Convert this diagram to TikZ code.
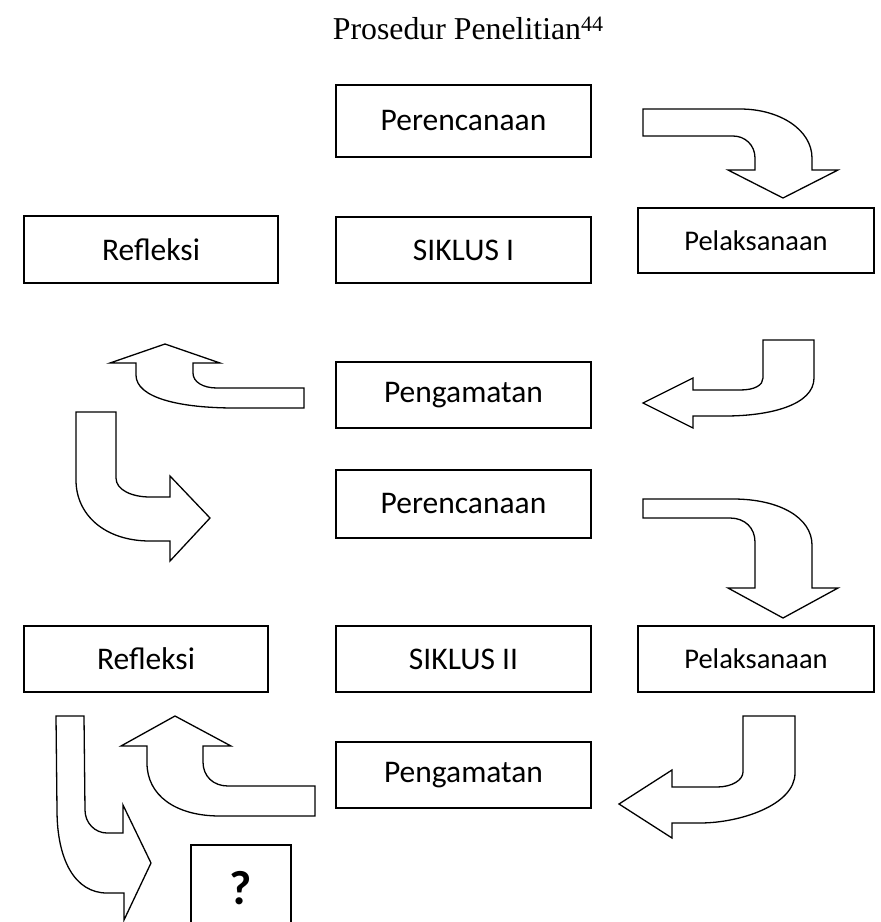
\documentclass[tikz,border=0pt]{standalone}
\usepackage{fontspec}
\setmainfont{Carlito}
\newfontfamily\titlefont{Liberation Serif}
\begin{document}
\begin{tikzpicture}[x=1pt,y=-1pt,
  box/.style={draw,line width=1.5pt,rectangle,inner sep=0pt,minimum width=255pt,minimum height=66pt,font=\fontsize{31.5}{36}\selectfont},
  smallbox/.style={box,font=\fontsize{28.5}{34}\selectfont},
  blockarrow/.style={draw,line width=1.3pt,line join=miter,fill=white}]
\useasboundingbox (0,0) rectangle (881,922);
% title
\node[anchor=base,inner sep=0pt,font=\titlefont\fontsize{31.8}{36}\selectfont] (title) at (468,39)
  {Prosedur Penelitian\raisebox{8pt}{\fontsize{22}{22}\selectfont 44}};
% cycle I
\node[box,minimum height=72pt] (p1) at (463.5,121) {Perencanaan};
\node[box] (s1) at (463.5,250) {SIKLUS I};
\node[box,minimum width=254pt,minimum height=67pt] (r1) at (151,249.5) {Refleksi};
\node[smallbox,minimum width=236pt,minimum height=65pt] (l1) at (756,240.5) {Pelaksanaan};
\node[box] (g1) at (463.5,395) {Pengamatan};
% cycle II
\node[box,minimum height=68pt] (p2) at (463.5,504) {Perencanaan};
\node[box] (s2) at (463.5,659) {SIKLUS II};
\node[box,minimum width=244pt] (r2) at (146,659) {Refleksi};
\node[smallbox,minimum width=236pt] (l2) at (756,659) {Pelaksanaan};
\node[box] (g2) at (463.5,775) {Pengamatan};
% question box (cut by the page edge)
\draw[line width=1.5pt] (191,922) -- (191,845) -- (291,845) -- (291,922);
\node[anchor=base,inner sep=0pt,font=\bfseries\fontsize{48}{50}\selectfont] (q) at (241,904) {?};
% arrows
\draw[blockarrow] (643,109) -- (740,109) .. controls (780,109) and (812,130) .. (812,158)
  -- (812,170) -- (838,170) -- (783,198) -- (728,170) -- (755,170) -- (755,158)
  .. controls (755,145) and (745,136) .. (733,136) -- (643,136) -- cycle;
\draw[blockarrow] (763,340) -- (814,340) -- (814,378) .. controls (814,405) and (770,416) .. (725,416)
  -- (693,416) -- (693,428) -- (643,403) -- (693,378) -- (693,390) -- (740,390)
  .. controls (755,390) and (763,385) .. (763,378) -- cycle;
\draw[blockarrow] (165,344) -- (220,363) -- (193,363) -- (193,373) .. controls (193,382) and (203,388) .. (217,388)
  -- (304,388) -- (304,408) -- (235,408) .. controls (180,408) and (136,398) .. (136,375)
  -- (136,363) -- (110,363) -- cycle;
\draw[blockarrow] (76,412) -- (116,412) -- (116,478) .. controls (116,490) and (132,497) .. (150,497)
  -- (170,497) -- (170,476) -- (210,518) -- (170,561) -- (170,541) -- (150,541)
  .. controls (105,541) and (76,515) .. (76,480) -- cycle;
\draw[blockarrow] (643,499) -- (733,499) .. controls (780,499) and (812,518) .. (812,545)
  -- (812,588) -- (838,588) -- (783,618) -- (728,588) -- (755,588) -- (755,542)
  .. controls (755,528) and (745,518) .. (730,518) -- (643,518) -- cycle;
\draw[blockarrow] (743,716) -- (795,716) -- (795,773) .. controls (795,805) and (740,823) .. (700,823)
  -- (672,823) -- (672,838) -- (619,804) -- (672,770) -- (672,787) -- (717,787)
  .. controls (732,787) and (743,780) .. (743,772) -- cycle;
\draw[blockarrow] (175,716) -- (231,746) -- (203,746) -- (203,762) .. controls (203,776) and (213,786) .. (228,786)
  -- (315,786) -- (315,816) -- (220,816) .. controls (175,816) and (147,795) .. (147,763)
  -- (147,746) -- (121,746) -- cycle;
\draw[blockarrow] (56,716) -- (84,716) -- (85,810) .. controls (85,823) and (95,833) .. (107,833)
  -- (123,833) -- (123,805) -- (151,863) -- (124,920) -- (124,893) -- (107,893)
  .. controls (75,893) and (57,860) .. (57,810) -- cycle;
\end{tikzpicture}
\end{document}
